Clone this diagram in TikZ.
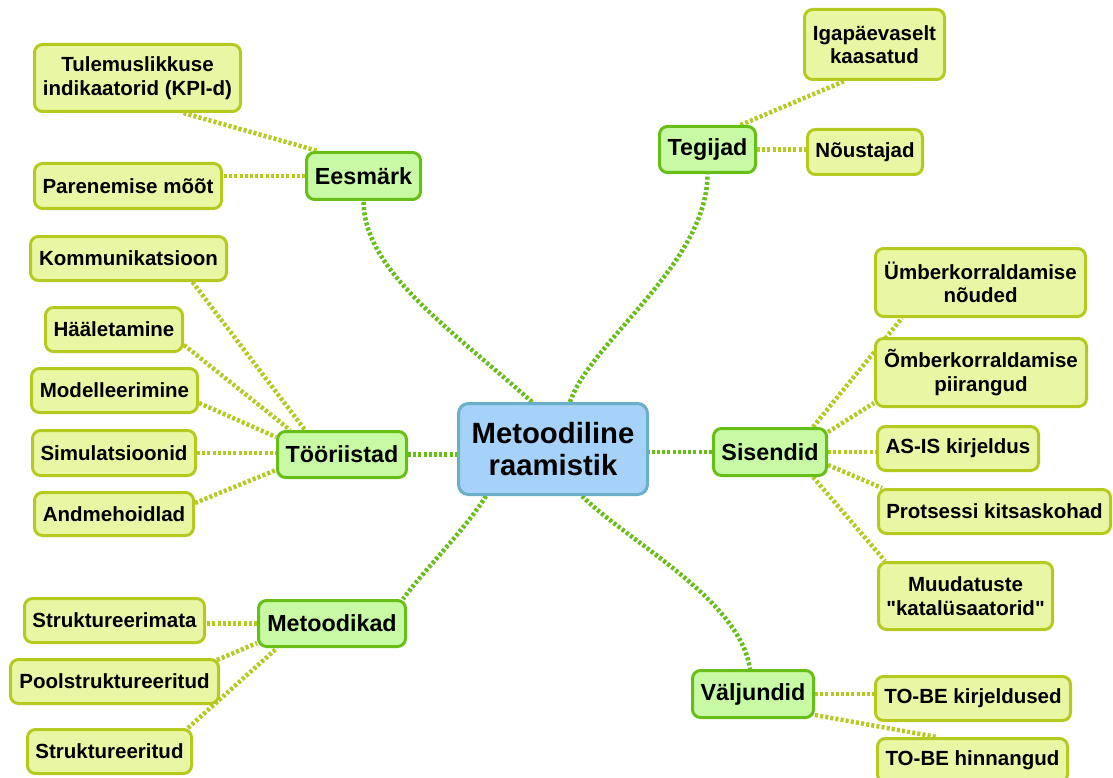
\documentclass[tikz,border=0pt]{standalone}
\usepackage{fontspec}
\setmainfont{Liberation Sans}[Ligatures=TeXOff]
\usetikzlibrary{calc}
\pgfdeclarelayer{bg}
\pgfsetlayers{bg,main}

\definecolor{hubfill}{HTML}{A6D2FA}
\definecolor{hubdraw}{HTML}{6AAFC8}
\definecolor{branchfill}{HTML}{C8FAA5}
\definecolor{branchdraw}{HTML}{66BE16}
\definecolor{leaffill}{HTML}{E9F7A5}
\definecolor{leafdraw}{HTML}{B6C91E}

\newcommand\hubfont{\bfseries\fontsize{29.3}{32}\selectfont}
\newcommand\branchfont{\bfseries\fontsize{23.3}{26}\selectfont}
\newcommand\leaffont{\bfseries\fontsize{20.5}{23.5}\selectfont}

\tikzset{
  boxbase/.style={rounded corners=8pt, line width=3pt, align=center, inner sep=0pt},
  hubbox/.style={boxbase, rounded corners=10pt, fill=hubfill, draw=hubdraw, font=\hubfont},
  branchbox/.style={boxbase, fill=branchfill, draw=branchdraw, font=\branchfont},
  leafbox/.style={boxbase, fill=leaffill, draw=leafdraw, font=\leaffont},
  sz/.style 2 args={minimum width=#1, minimum height=#2},
  hubline/.style={draw=branchdraw, line width=4.5pt, dash pattern=on 3pt off 2.2pt},
  leafline/.style={draw=leafdraw, line width=4.5pt, dash pattern=on 3pt off 2.2pt},
}

\begin{document}
\begin{tikzpicture}[x=1pt, y=-1pt]
\useasboundingbox (0,0) rectangle (1113,778);

% central topic
\node[hubbox, sz={189}{91}] (hub) at (553,449) {Metoodiline\\raamistik};

% main branches
\node[branchbox, sz={114}{47}] (ees) at (363.5,176) {Eesmärk};
\node[branchbox, sz={96}{46}]  (teg) at (707.5,149.5) {Tegijad};
\node[branchbox, sz={129}{46}] (too) at (342,454.5) {Tööriistad};
\node[branchbox, sz={113}{47}] (sis) at (770,452) {Sisendid};
\node[branchbox, sz={147}{46}] (met) at (332,623.5) {Metoodikad};
\node[branchbox, sz={121}{47}] (val) at (753,694) {Väljundid};

% Eesmärk
\node[leafbox, sz={206}{67}] (kpi) at (137.5,78) {Tulemuslikkuse\\indikaatorid (KPI-d)};
\node[leafbox, sz={187}{45}] (par) at (128,186) {Parenemise mõõt};

% Tööriistad
\node[leafbox, sz={196}{44}] (kom)  at (128.5,258.5) {Kommunikatsioon};
\node[leafbox, sz={137}{44}] (haa)  at (114,329.5) {Hääletamine};
\node[leafbox, sz={166}{44}] (mod)  at (114.5,390.5) {Modelleerimine};
\node[leafbox, sz={163}{45}] (sim)  at (114,453) {Simulatsioonid};
\node[leafbox, sz={159}{43}] (andm) at (114,514) {Andmehoidlad};

% Metoodikad
\node[leafbox, sz={180}{44}] (sme) at (114.5,620.5) {Struktureerimata};
\node[leafbox, sz={208}{44}] (pst) at (114.5,681.5) {Poolstruktureeritud};
\node[leafbox, sz={164}{44}] (str) at (109.5,751.5) {Struktureeritud};

% Tegijad
\node[leafbox, sz={140}{70}] (iga) at (874.5,44.5) {Igapäevaselt\\kaasatud};
\node[leafbox, sz={115}{45}] (nou) at (865,152) {Nõustajad};

% Sisendid
\node[leafbox, sz={210}{68}] (unu)  at (980.5,282.5) {Ümberkorraldamise\\nõuded};
\node[leafbox, sz={211}{68}] (upi)  at (981,372.5) {Õmberkorraldamise\\piirangud};
\node[leafbox, sz={161}{44}] (asis) at (958,448.5) {AS-IS kirjeldus};
\node[leafbox, sz={232}{44}] (prk)  at (994.5,511.5) {Protsessi kitsaskohad};
\node[leafbox, sz={174}{67}] (muu)  at (965.5,596) {Muudatuste\\"katalüsaatorid"};

% Väljundid
\node[leafbox, sz={195}{44}] (tbk) at (973,698.5) {TO-BE kirjeldused};
\node[leafbox, sz={190}{44}] (tbh) at (972.5,760.5) {TO-BE hinnangud};

\begin{pgfonlayer}{bg}
% central topic to branches
\draw[hubline] ($(hub.north)+(-21,0)$) .. controls ($(hub.north)+(-101,-72)$) and ($(ees.south)+(0,70)$) .. (ees.south);
\draw[hubline] ($(hub.north)+(17,0)$) .. controls ($(hub.north)+(37,-60)$) and ($(teg.south)+(0,90)$) .. (teg.south);
\draw[hubline] (too.east) -- (too.east -| hub.west);
\draw[hubline] (sis.west) -- (sis.west -| hub.east);
\draw[hubline] ($(hub.south)+(-67,0)$) .. controls ($(hub.south)+(-89,35)$) and ($(met.north east)+(18,-30)$) .. ($(met.north east)+(-4,0)$);
\draw[hubline] ($(hub.south)+(29,0)$) .. controls ($(hub.south)+(74,45)$) and ($(val.north)+(-13,-70)$) .. ($(val.north)+(-3,0)$);

% Eesmärk leaves
\draw[leafline] ($(kpi.south)+(46,0)$) -- ($(ees.north west)+(13,0)$);
\draw[leafline] (ees.west) -- (ees.west -| par.east);

% Tööriistad leaves
\draw[leafline] ($(kom.south)+(64,0)$) -- ($(too.north west)+(29,0)$);
\draw[leafline] ($(haa.south east)+(0,-8)$) -- ($(too.north west)+(14,0)$);
\draw[leafline] ($(mod.south east)+(0,-11)$) -- ($(too.north west)+(0,7)$);
\draw[leafline] (sim.east) -- (sim.east -| too.west);
\draw[leafline] ($(andm.east)+(0,-11)$) -- ($(too.south west)+(0,-9)$);

% Metoodikad leaves
\draw[leafline] (met.west) -- (met.west -| sme.east);
\draw[leafline] ($(pst.north east)+(-3,2)$) -- ($(met.south west)+(0,-5)$);
\draw[leafline] ($(str.north east)+(-5,0)$) -- ($(met.south west)+(20,0)$);

% Tegijad leaves
\draw[leafline] ($(teg.north)+(33,0)$) -- ($(iga.south)+(-30,0)$);
\draw[leafline] (teg.east) -- (teg.east -| nou.west);

% Sisendid leaves
\draw[leafline] ($(sis.north east)+(-15,0)$) -- ($(unu.south west)+(28,0)$);
\draw[leafline] ($(sis.north east)+(0,5)$) -- ($(upi.south west)+(0,-5)$);
\draw[leafline] (sis.east) -- (sis.east -| asis.west);
\draw[leafline] ($(sis.south east)+(0,-12)$) -- ($(prk.north west)+(5,0)$);
\draw[leafline] ($(sis.south east)+(-15,0)$) -- ($(muu.north west)+(8,0)$);

% Väljundid leaves
\draw[leafline] (val.east) -- (val.east -| tbk.west);
\draw[leafline] ($(val.south east)+(0,-4)$) -- ($(tbh.north west)+(61,0)$);
\end{pgfonlayer}
\end{tikzpicture}
\end{document}
